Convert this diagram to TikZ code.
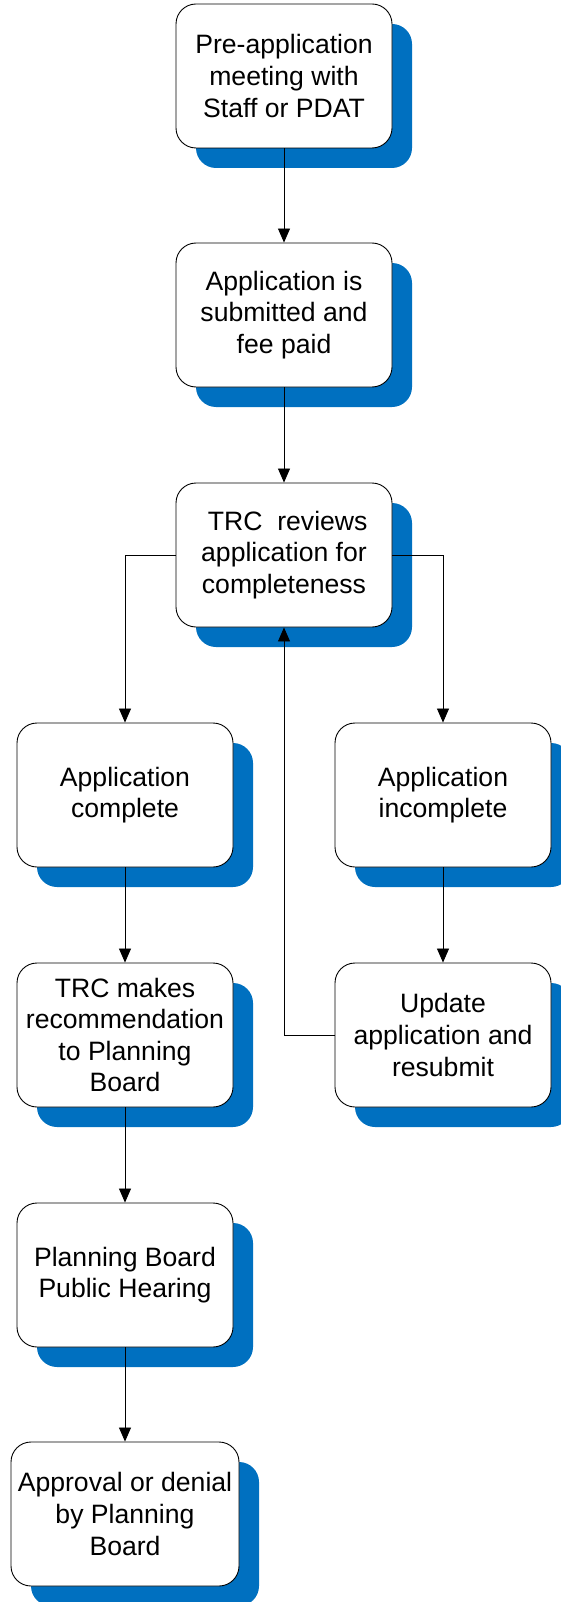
\documentclass[tikz,border=0pt]{standalone}
\usepackage{fontspec}
\setmainfont{Liberation Sans}
\usetikzlibrary{arrows.meta,shadows}
\definecolor{shadowblue}{RGB}{0,112,192}
\begin{document}
\begin{tikzpicture}[x=1pt,y=-1pt,
  stepbox/.style={draw=black, line width=0.9pt, fill=white, rounded corners=20pt,
    minimum width=216pt, minimum height=144pt, inner sep=0pt, align=center,
    font=\fontsize{26.6}{31.6}\selectfont,
    drop shadow={shadow xshift=20pt, shadow yshift=-20pt, fill=shadowblue, opacity=1}},
  conn/.style={draw=black, line width=0.8pt, -{Triangle[length=14pt,width=12pt]}}]
\useasboundingbox (0,0) rectangle (561,1602);
\node[stepbox] (pre) at (284,76) {Pre-application\\meeting with\\Staff or PDAT};
\node[stepbox] (sub) at (284,315) {Application is\\submitted and\\fee paid};
\node[stepbox] (trc) at (284,555) {\ TRC\ \ reviews\\application for\\completeness};
\node[stepbox] (comp) at (125,795) {Application\\complete};
\node[stepbox] (inc) at (443,795) {Application\\incomplete};
\node[stepbox] (rec) at (125,1035) {TRC makes\\recommendation\\to Planning\\Board};
\node[stepbox] (upd) at (443,1035) {Update\\application and\\resubmit};
\node[stepbox] (pb) at (125,1275) {Planning Board\\Public Hearing};
\node[stepbox, minimum width=228pt] (appr) at (125,1514) {Approval or denial\\by Planning\\Board};
\draw[conn] (pre) -- (sub);
\draw[conn] (sub) -- (trc);
\draw[conn] (trc.west) -| (comp.north);
\draw[conn] (trc.east) -| (inc.north);
\draw[conn] (comp) -- (rec);
\draw[conn] (rec) -- (pb);
\draw[conn] (pb) -- (appr);
\draw[conn] (inc) -- (upd);
\draw[conn] (upd.west) -| (trc.south);
\end{tikzpicture}
\end{document}
